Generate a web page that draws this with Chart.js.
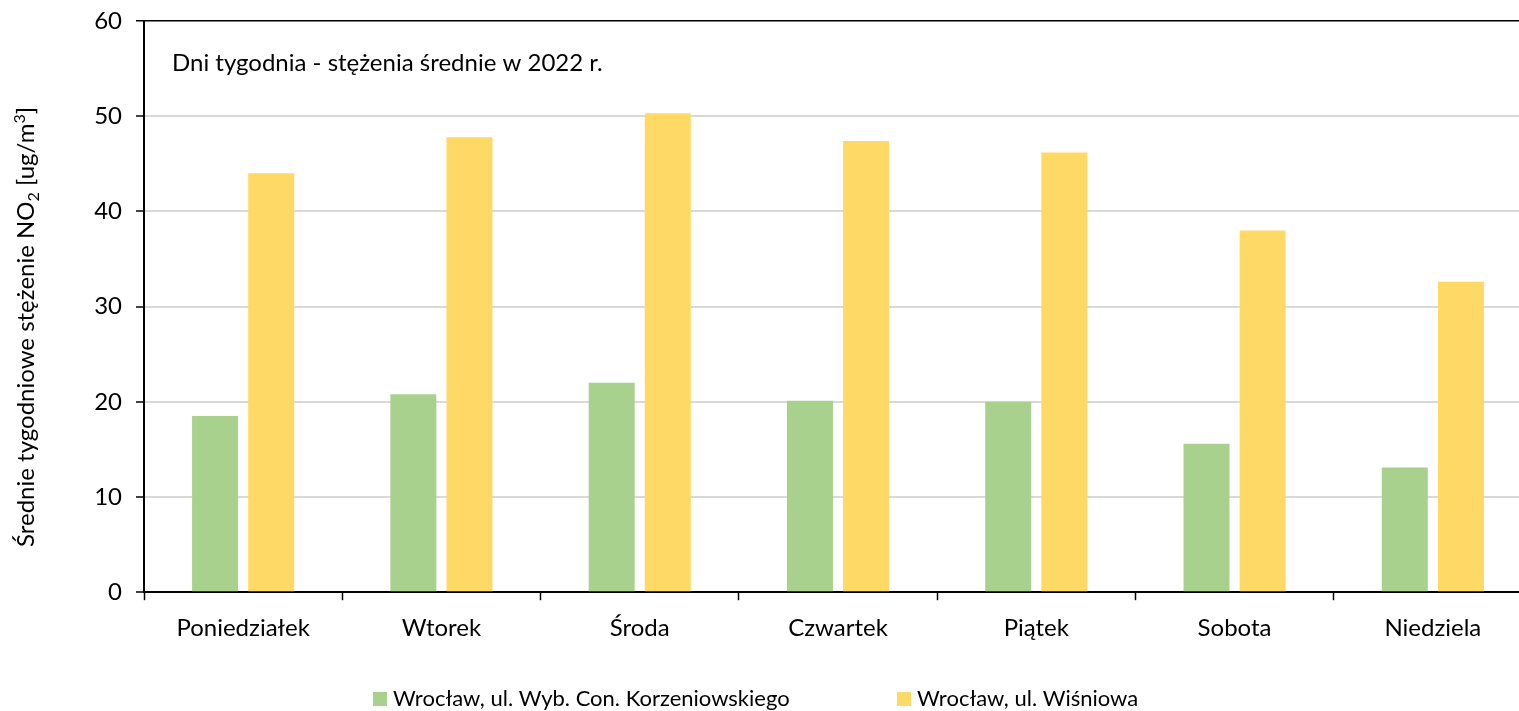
<!DOCTYPE html>
<html>
<head>
<meta charset="utf-8">
<script src="https://cdn.jsdelivr.net/npm/chart.js@4.4.1/dist/chart.umd.min.js"></script>
<style>
  html, body { margin: 0; padding: 0; overflow: hidden; background: #fff; }
  #wrap { width: 1540px; height: 711px; position: relative; }
</style>
</head>
<body>
<div id="wrap"><canvas id="noChart"></canvas></div>
<script>
const days = ['Poniedziałek', 'Wtorek', 'Środa', 'Czwartek', 'Piątek', 'Sobota', 'Niedziela'];
const korzeniowskiego = [18.5, 20.8, 22.0, 20.1, 20.0, 15.6, 13.1];
const wisniowa = [44.0, 47.8, 50.3, 47.4, 46.2, 38.0, 32.6];
const seriesNames = ['Wrocław, ul. Wyb. Con. Korzeniowskiego', 'Wrocław, ul. Wiśniowa'];
const seriesColors = ['#A9D18E', '#FFD966'];
const yMin = 0, yMax = 60, yStep = 10;
const chartTitle = 'Dni tygodnia - stężenia średnie w 2022 r.';

const FONT = 'Lato, "Open Sans", sans-serif';
const fontSize = 24;
const legendFontSize = 22;

// title inside the plot area
const innerTitle = {
    id: 'innerTitle',
    afterDraw(chart) {
        const ctx = chart.ctx;
        ctx.save();
        ctx.font = fontSize + 'px ' + FONT;
        ctx.fillStyle = '#000';
        ctx.textBaseline = 'alphabetic';
        ctx.fillText(chartTitle, chart.chartArea.left + 28, 71);
        ctx.restore();
    }
};

// rotated y axis title with sub/superscript
const yTitle = {
    id: 'yTitle',
    afterDraw(chart) {
        const ctx = chart.ctx;
        const parts = [
            ['Średnie tygodniowe stężenie NO', 0, false],
            ['2', 5, true],
            [' [ug/m', 0, false],
            ['3', -9, true],
            [']', 0, false]
        ];
        const big = fontSize + 'px ' + FONT;
        const small = Math.round(fontSize * 0.65) + 'px ' + FONT;
        ctx.save();
        let total = 0;
        parts.forEach(p => { ctx.font = p[2] ? small : big; total += ctx.measureText(p[0]).width; });
        ctx.translate(34, 327);
        ctx.rotate(-Math.PI / 2);
        ctx.fillStyle = '#000';
        ctx.textBaseline = 'alphabetic';
        let x = -total / 2;
        parts.forEach(p => {
            ctx.font = p[2] ? small : big;
            ctx.fillText(p[0], x, p[1]);
            x += ctx.measureText(p[0]).width;
        });
        ctx.restore();
    }
};

// legend at the bottom
const bottomLegend = {
    id: 'bottomLegend',
    afterDraw(chart) {
        const ctx = chart.ctx;
        const xs = [373, 897];
        const y = 699;
        ctx.save();
        ctx.font = legendFontSize + 'px ' + FONT;
        ctx.textBaseline = 'middle';
        chart.data.datasets.forEach((ds, i) => {
            ctx.fillStyle = ds.backgroundColor;
            ctx.fillRect(xs[i], y - 7, 14, 14);
            ctx.fillStyle = '#000';
            ctx.fillText(ds.label, xs[i] + 20, y);
        });
        ctx.restore();
    }
};

const ctx = document.getElementById('noChart').getContext('2d');
new Chart(ctx, {
    type: 'bar',
    data: {
        labels: days,
        datasets: [{
            label: seriesNames[0],
            data: korzeniowskiego,
            backgroundColor: seriesColors[0]
        }, {
            label: seriesNames[1],
            data: wisniowa,
            backgroundColor: seriesColors[1]
        }]
    },
    options: {
        responsive: true,
        maintainAspectRatio: false,
        animation: false,
        categoryPercentage: 0.566,
        barPercentage: 0.82,
        layout: { padding: { left: 0, right: 8, top: 0, bottom: 54 } },
        plugins: {
            legend: { display: false },
            tooltip: { enabled: false }
        },
        scales: {
            x: {
                grid: {
                    offset: true,
                    drawOnChartArea: false,
                    tickColor: '#000',
                    tickLength: 8,
                    tickWidth: 1.5
                },
                border: { color: '#000', width: 2 },
                ticks: { color: '#000', font: { family: FONT, size: fontSize }, padding: 14 }
            },
            y: {
                min: yMin,
                max: yMax,
                afterFit(scale) {
                    scale.width = 144;
                    scale.paddingTop = 21;
                },
                grid: {
                    color: c => c.tick && c.tick.value === yMax ? '#000' : '#D9D9D9',
                    lineWidth: c => c.tick && c.tick.value === yMax ? 1.5 : 2,
                    tickColor: '#000',
                    tickLength: 8,
                    tickWidth: 1.5
                },
                border: { color: '#000', width: 2 },
                ticks: {
                    stepSize: yStep,
                    color: '#000',
                    font: { family: FONT, size: fontSize },
                    padding: 14
                }
            }
        }
    },
    plugins: [innerTitle, yTitle, bottomLegend]
});
</script>
</body>
</html>
